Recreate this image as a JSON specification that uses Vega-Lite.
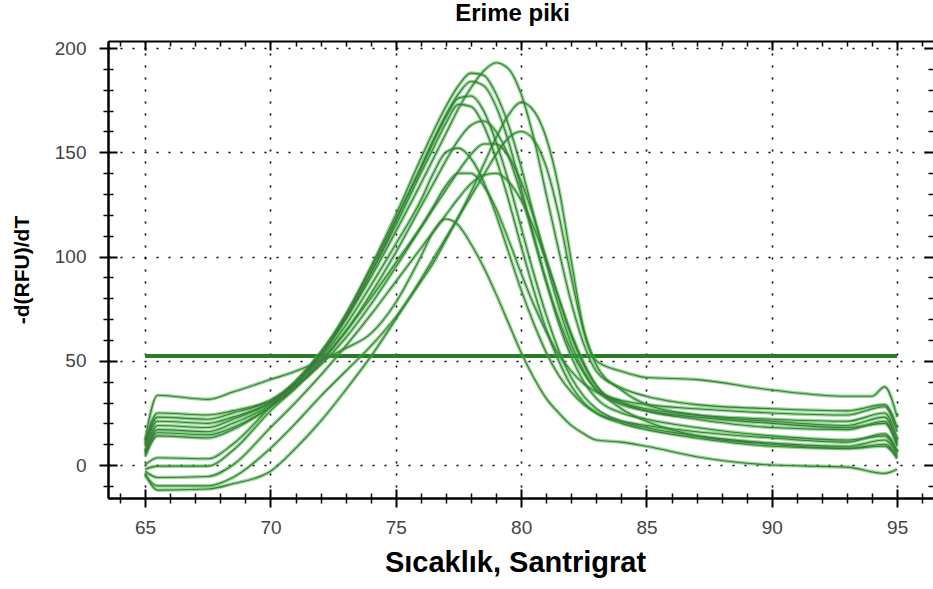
{
 "$schema": "https://vega.github.io/schema/vega-lite/v6.json",
 "width": 825,
 "height": 457,
 "autosize": {"type": "none"},
 "padding": {"left": 108, "top": 41, "right": 0, "bottom": 91},
 "background": "white",
 "config": {"view": {"stroke": null}, "font": "Liberation Sans"},
 "title": {"text": "Erime piki", "fontSize": 24, "fontWeight": "bold", "font": "Liberation Sans", "color": "#000", "baseline": "alphabetic", "offset": -6, "dx": -8},
 "datasets": {
  "thr": [{"t1": 65, "t2": 95, "v": 52.3}],
  "curves": [
{"c":"A","t":65,"v":0},{"c":"A","t":65.5,"v":3.5},{"c":"A","t":67.5,"v":3},{"c":"A","t":68.5,"v":10},{"c":"A","t":70,"v":28},{"c":"A","t":71,"v":40},{"c":"A","t":72,"v":54},{"c":"A","t":73,"v":70},{"c":"A","t":74,"v":90},{"c":"A","t":75,"v":112},{"c":"A","t":76,"v":135},{"c":"A","t":76.5,"v":147},{"c":"A","t":77,"v":159},{"c":"A","t":77.5,"v":171},{"c":"A","t":78,"v":181},{"c":"A","t":78.5,"v":189},{"c":"A","t":79,"v":193},{"c":"A","t":79.5,"v":190},{"c":"A","t":80,"v":178},{"c":"A","t":80.5,"v":157},{"c":"A","t":81,"v":130},{"c":"A","t":81.5,"v":103},{"c":"A","t":82,"v":78},{"c":"A","t":82.5,"v":58},{"c":"A","t":83,"v":45},{"c":"A","t":84,"v":37},{"c":"A","t":85,"v":33},{"c":"A","t":87,"v":29},{"c":"A","t":90,"v":27},{"c":"A","t":93,"v":26},{"c":"A","t":94.5,"v":29},{"c":"A","t":95,"v":18},
{"c":"B","t":65,"v":10},{"c":"B","t":65.5,"v":23},{"c":"B","t":67.5,"v":22},{"c":"B","t":68.5,"v":25},{"c":"B","t":70,"v":31},{"c":"B","t":71,"v":40},{"c":"B","t":72,"v":53},{"c":"B","t":73,"v":72},{"c":"B","t":74,"v":95},{"c":"B","t":75,"v":120},{"c":"B","t":76,"v":147},{"c":"B","t":76.5,"v":160},{"c":"B","t":77,"v":172},{"c":"B","t":77.5,"v":182},{"c":"B","t":78,"v":188},{"c":"B","t":78.5,"v":187},{"c":"B","t":79,"v":178},{"c":"B","t":79.5,"v":163},{"c":"B","t":80,"v":143},{"c":"B","t":80.5,"v":120},{"c":"B","t":81,"v":97},{"c":"B","t":81.5,"v":76},{"c":"B","t":82,"v":58},{"c":"B","t":82.5,"v":45},{"c":"B","t":83,"v":36},{"c":"B","t":84,"v":29},{"c":"B","t":85,"v":26},{"c":"B","t":87,"v":23},{"c":"B","t":90,"v":20},{"c":"B","t":93,"v":18},{"c":"B","t":94.5,"v":20},{"c":"B","t":95,"v":10},
{"c":"C","t":65,"v":9},{"c":"C","t":65.5,"v":21},{"c":"C","t":67.5,"v":20},{"c":"C","t":68.5,"v":23},{"c":"C","t":70,"v":30},{"c":"C","t":71,"v":39},{"c":"C","t":72,"v":52},{"c":"C","t":73,"v":70},{"c":"C","t":74,"v":92},{"c":"C","t":75,"v":117},{"c":"C","t":76,"v":143},{"c":"C","t":76.5,"v":156},{"c":"C","t":77,"v":168},{"c":"C","t":77.5,"v":178},{"c":"C","t":78,"v":184},{"c":"C","t":78.5,"v":182},{"c":"C","t":79,"v":172},{"c":"C","t":79.5,"v":155},{"c":"C","t":80,"v":133},{"c":"C","t":80.5,"v":110},{"c":"C","t":81,"v":88},{"c":"C","t":81.5,"v":68},{"c":"C","t":82,"v":52},{"c":"C","t":82.5,"v":40},{"c":"C","t":83,"v":32},{"c":"C","t":84,"v":25},{"c":"C","t":85,"v":22},{"c":"C","t":87,"v":18},{"c":"C","t":90,"v":14},{"c":"C","t":93,"v":12},{"c":"C","t":94.5,"v":14},{"c":"C","t":95,"v":6},
{"c":"D","t":65,"v":7},{"c":"D","t":65.5,"v":19},{"c":"D","t":67.5,"v":18},{"c":"D","t":68.5,"v":22},{"c":"D","t":70,"v":30},{"c":"D","t":71,"v":40},{"c":"D","t":72,"v":54},{"c":"D","t":73,"v":72},{"c":"D","t":74,"v":94},{"c":"D","t":75,"v":118},{"c":"D","t":76,"v":142},{"c":"D","t":76.5,"v":155},{"c":"D","t":77,"v":167},{"c":"D","t":77.5,"v":176},{"c":"D","t":78,"v":177},{"c":"D","t":78.5,"v":170},{"c":"D","t":79,"v":155},{"c":"D","t":79.5,"v":136},{"c":"D","t":80,"v":114},{"c":"D","t":80.5,"v":92},{"c":"D","t":81,"v":72},{"c":"D","t":81.5,"v":55},{"c":"D","t":82,"v":42},{"c":"D","t":82.5,"v":33},{"c":"D","t":83,"v":27},{"c":"D","t":84,"v":21},{"c":"D","t":85,"v":18},{"c":"D","t":87,"v":14},{"c":"D","t":90,"v":10.5},{"c":"D","t":93,"v":9},{"c":"D","t":94.5,"v":12},{"c":"D","t":95,"v":5},
{"c":"E","t":65,"v":6},{"c":"E","t":65.5,"v":17},{"c":"E","t":67.5,"v":16},{"c":"E","t":68.5,"v":20},{"c":"E","t":70,"v":29},{"c":"E","t":71,"v":39},{"c":"E","t":72,"v":53},{"c":"E","t":73,"v":71},{"c":"E","t":74,"v":92},{"c":"E","t":75,"v":115},{"c":"E","t":76,"v":140},{"c":"E","t":76.5,"v":152},{"c":"E","t":77,"v":164},{"c":"E","t":77.5,"v":173},{"c":"E","t":78,"v":172},{"c":"E","t":78.5,"v":163},{"c":"E","t":79,"v":147},{"c":"E","t":79.5,"v":127},{"c":"E","t":80,"v":105},{"c":"E","t":80.5,"v":84},{"c":"E","t":81,"v":65},{"c":"E","t":81.5,"v":50},{"c":"E","t":82,"v":38},{"c":"E","t":82.5,"v":30},{"c":"E","t":83,"v":25},{"c":"E","t":84,"v":20},{"c":"E","t":85,"v":17},{"c":"E","t":87,"v":13},{"c":"E","t":90,"v":9},{"c":"E","t":93,"v":8},{"c":"E","t":94.5,"v":10},{"c":"E","t":95,"v":4},
{"c":"I","t":65,"v":5},{"c":"I","t":65.5,"v":15.5},{"c":"I","t":67.5,"v":14.5},{"c":"I","t":68.5,"v":18},{"c":"I","t":70,"v":28},{"c":"I","t":71,"v":38},{"c":"I","t":72,"v":51},{"c":"I","t":73,"v":67},{"c":"I","t":74,"v":86},{"c":"I","t":75,"v":106},{"c":"I","t":76,"v":127},{"c":"I","t":76.5,"v":140},{"c":"I","t":77,"v":150},{"c":"I","t":77.5,"v":152},{"c":"I","t":78,"v":147},{"c":"I","t":78.5,"v":136},{"c":"I","t":79,"v":120},{"c":"I","t":79.5,"v":102},{"c":"I","t":80,"v":84},{"c":"I","t":80.5,"v":68},{"c":"I","t":81,"v":54},{"c":"I","t":81.5,"v":43},{"c":"I","t":82,"v":35},{"c":"I","t":82.5,"v":29},{"c":"I","t":83,"v":25},{"c":"I","t":84,"v":21},{"c":"I","t":85,"v":19},{"c":"I","t":87,"v":16},{"c":"I","t":90,"v":13},{"c":"I","t":93,"v":11},{"c":"I","t":94.5,"v":15},{"c":"I","t":95,"v":7},
{"c":"N","t":65,"v":4},{"c":"N","t":65.5,"v":14},{"c":"N","t":67.5,"v":13},{"c":"N","t":68.5,"v":17},{"c":"N","t":70,"v":28},{"c":"N","t":71,"v":37},{"c":"N","t":72,"v":49},{"c":"N","t":73,"v":64},{"c":"N","t":74,"v":82},{"c":"N","t":75,"v":102},{"c":"N","t":76,"v":124},{"c":"N","t":76.5,"v":135},{"c":"N","t":77,"v":146},{"c":"N","t":77.5,"v":156},{"c":"N","t":78,"v":163},{"c":"N","t":78.5,"v":165},{"c":"N","t":79,"v":160},{"c":"N","t":79.5,"v":148},{"c":"N","t":80,"v":130},{"c":"N","t":80.5,"v":109},{"c":"N","t":81,"v":88},{"c":"N","t":81.5,"v":70},{"c":"N","t":82,"v":55},{"c":"N","t":82.5,"v":44},{"c":"N","t":83,"v":36},{"c":"N","t":84,"v":30},{"c":"N","t":85,"v":27},{"c":"N","t":87,"v":24},{"c":"N","t":90,"v":22},{"c":"N","t":93,"v":21},{"c":"N","t":94.5,"v":25},{"c":"N","t":95,"v":13},
{"c":"J","t":65,"v":11},{"c":"J","t":65.5,"v":25},{"c":"J","t":67.5,"v":24},{"c":"J","t":68.5,"v":26},{"c":"J","t":70,"v":31},{"c":"J","t":71,"v":38},{"c":"J","t":72,"v":48},{"c":"J","t":73,"v":61},{"c":"J","t":74,"v":77},{"c":"J","t":75,"v":95},{"c":"J","t":76,"v":114},{"c":"J","t":76.5,"v":124},{"c":"J","t":77,"v":134},{"c":"J","t":77.5,"v":140},{"c":"J","t":78,"v":140},{"c":"J","t":78.5,"v":134},{"c":"J","t":79,"v":123},{"c":"J","t":79.5,"v":108},{"c":"J","t":80,"v":92},{"c":"J","t":80.5,"v":77},{"c":"J","t":81,"v":64},{"c":"J","t":81.5,"v":53},{"c":"J","t":82,"v":45},{"c":"J","t":82.5,"v":39},{"c":"J","t":83,"v":35},{"c":"J","t":84,"v":31},{"c":"J","t":85,"v":29},{"c":"J","t":87,"v":27},{"c":"J","t":90,"v":25},{"c":"J","t":93,"v":24},{"c":"J","t":94.5,"v":28},{"c":"J","t":95,"v":16},
{"c":"L","t":65,"v":12},{"c":"L","t":65.5,"v":33.5},{"c":"L","t":67.5,"v":31.5},{"c":"L","t":68.5,"v":35},{"c":"L","t":70,"v":41},{"c":"L","t":71,"v":45},{"c":"L","t":72,"v":50},{"c":"L","t":73,"v":56},{"c":"L","t":74,"v":63},{"c":"L","t":75,"v":78},{"c":"L","t":76,"v":100},{"c":"L","t":76.5,"v":112},{"c":"L","t":77,"v":118},{"c":"L","t":77.5,"v":115},{"c":"L","t":78,"v":106},{"c":"L","t":78.5,"v":95},{"c":"L","t":79,"v":82},{"c":"L","t":79.5,"v":68},{"c":"L","t":80,"v":54},{"c":"L","t":80.5,"v":42},{"c":"L","t":81,"v":32},{"c":"L","t":81.5,"v":25},{"c":"L","t":82,"v":19},{"c":"L","t":82.5,"v":15},{"c":"L","t":83,"v":12},{"c":"L","t":84,"v":11},{"c":"L","t":85,"v":9},{"c":"L","t":87,"v":4},{"c":"L","t":90,"v":0},{"c":"L","t":93,"v":-1},{"c":"L","t":94.5,"v":-4},{"c":"L","t":95,"v":-2},
{"c":"H","t":65,"v":-2},{"c":"H","t":65.5,"v":-0.5},{"c":"H","t":67.5,"v":-0.5},{"c":"H","t":68.5,"v":7},{"c":"H","t":70,"v":26},{"c":"H","t":71,"v":37},{"c":"H","t":72,"v":50},{"c":"H","t":73,"v":64},{"c":"H","t":74,"v":80},{"c":"H","t":75,"v":97},{"c":"H","t":76,"v":114},{"c":"H","t":76.5,"v":123},{"c":"H","t":77,"v":132},{"c":"H","t":77.5,"v":141},{"c":"H","t":78,"v":149},{"c":"H","t":78.5,"v":154},{"c":"H","t":79,"v":154},{"c":"H","t":79.5,"v":148},{"c":"H","t":80,"v":136},{"c":"H","t":80.5,"v":119},{"c":"H","t":81,"v":99},{"c":"H","t":81.5,"v":80},{"c":"H","t":82,"v":62},{"c":"H","t":82.5,"v":48},{"c":"H","t":83,"v":38},{"c":"H","t":84,"v":30},{"c":"H","t":85,"v":26},{"c":"H","t":87,"v":22},{"c":"H","t":90,"v":18},{"c":"H","t":93,"v":17},{"c":"H","t":94.5,"v":21},{"c":"H","t":95,"v":9},
{"c":"K","t":65,"v":-3},{"c":"K","t":65.5,"v":-6},{"c":"K","t":67.5,"v":-5.5},{"c":"K","t":68.5,"v":0},{"c":"K","t":70,"v":18},{"c":"K","t":71,"v":30},{"c":"K","t":72,"v":43},{"c":"K","t":73,"v":57},{"c":"K","t":74,"v":72},{"c":"K","t":75,"v":88},{"c":"K","t":76,"v":104},{"c":"K","t":76.5,"v":112},{"c":"K","t":77,"v":120},{"c":"K","t":77.5,"v":128},{"c":"K","t":78,"v":135},{"c":"K","t":78.5,"v":139},{"c":"K","t":79,"v":140},{"c":"K","t":79.5,"v":136},{"c":"K","t":80,"v":127},{"c":"K","t":80.5,"v":114},{"c":"K","t":81,"v":98},{"c":"K","t":81.5,"v":80},{"c":"K","t":82,"v":63},{"c":"K","t":82.5,"v":49},{"c":"K","t":83,"v":38},{"c":"K","t":84,"v":27},{"c":"K","t":85,"v":21},{"c":"K","t":87,"v":14},{"c":"K","t":90,"v":10},{"c":"K","t":93,"v":8},{"c":"K","t":94.5,"v":9},{"c":"K","t":95,"v":3},
{"c":"G","t":65,"v":-4},{"c":"G","t":65.5,"v":-12},{"c":"G","t":67.5,"v":-11.5},{"c":"G","t":68.5,"v":-9},{"c":"G","t":70,"v":-3},{"c":"G","t":71,"v":8},{"c":"G","t":72,"v":21},{"c":"G","t":73,"v":36},{"c":"G","t":74,"v":52},{"c":"G","t":75,"v":70},{"c":"G","t":76,"v":89},{"c":"G","t":76.5,"v":99},{"c":"G","t":77,"v":109},{"c":"G","t":77.5,"v":119},{"c":"G","t":78,"v":129},{"c":"G","t":78.5,"v":139},{"c":"G","t":79,"v":149},{"c":"G","t":79.5,"v":157},{"c":"G","t":80,"v":160},{"c":"G","t":80.5,"v":156},{"c":"G","t":81,"v":143},{"c":"G","t":81.5,"v":120},{"c":"G","t":82,"v":90},{"c":"G","t":82.5,"v":64},{"c":"G","t":83,"v":48},{"c":"G","t":84,"v":36},{"c":"G","t":85,"v":29},{"c":"G","t":87,"v":24},{"c":"G","t":90,"v":21},{"c":"G","t":93,"v":19},{"c":"G","t":94.5,"v":23},{"c":"G","t":95,"v":11},
{"c":"F","t":65,"v":-5},{"c":"F","t":65.5,"v":-10},{"c":"F","t":67.5,"v":-10},{"c":"F","t":68.5,"v":-6},{"c":"F","t":70,"v":8},{"c":"F","t":71,"v":20},{"c":"F","t":72,"v":33},{"c":"F","t":73,"v":45},{"c":"F","t":74,"v":57},{"c":"F","t":75,"v":71},{"c":"F","t":76,"v":88},{"c":"F","t":76.5,"v":97},{"c":"F","t":77,"v":108},{"c":"F","t":77.5,"v":119},{"c":"F","t":78,"v":131},{"c":"F","t":78.5,"v":144},{"c":"F","t":79,"v":157},{"c":"F","t":79.5,"v":168},{"c":"F","t":80,"v":174},{"c":"F","t":80.5,"v":170},{"c":"F","t":81,"v":157},{"c":"F","t":81.5,"v":133},{"c":"F","t":82,"v":98},{"c":"F","t":82.5,"v":65},{"c":"F","t":83,"v":50},{"c":"F","t":84,"v":45},{"c":"F","t":85,"v":42},{"c":"F","t":87,"v":41},{"c":"F","t":90,"v":36},{"c":"F","t":93,"v":33},{"c":"F","t":94,"v":33},{"c":"F","t":94.5,"v":37.5},{"c":"F","t":95,"v":23}
  ]
 },
 "layer": [
  {
   "data": {"name": "thr"},
   "mark": {"type": "rule", "color": "#2a7a2a", "strokeWidth": 4},
   "encoding": {
    "x": {"field": "t1", "type": "quantitative", "scale": {"domain": [63.52, 96.43], "nice": false, "zero": false},
      "axis": {"orient": "top", "values": [64,65,66,67,68,69,70,71,72,73,74,75,76,77,78,79,80,81,82,83,84,85,86,87,88,89,90,91,92,93,94,95,96], "labels": false, "title": null, "grid": false, "domain": true, "domainColor": "#000", "domainWidth": 2, "tickColor": "#000", "tickSize": {"condition": {"test": "datum.value % 5 === 0", "value": -9}, "value": -5}, "tickWidth": {"condition": {"test": "datum.value % 5 === 0", "value": 2}, "value": 1.5}}},
    "x2": {"field": "t2"},
    "y": {"field": "v", "type": "quantitative", "scale": {"domain": [-15.8, 203.4], "nice": false, "zero": false},
      "axis": {"orient": "right", "values": [-10,0,10,20,30,40,50,60,70,80,90,100,110,120,130,140,150,160,170,180,190,200], "labels": false, "title": null, "grid": false, "domain": false, "tickColor": "#000", "tickSize": {"condition": {"test": "datum.value % 50 === 0", "value": -9}, "value": -5}, "tickWidth": {"condition": {"test": "datum.value % 50 === 0", "value": 2}, "value": 1.5}}}
   }
  },
  {
   "data": {"name": "curves"},
   "mark": {"type": "line", "interpolate": "monotone", "color": "#3cb83c", "strokeWidth": 3.6, "opacity": 0.55},
   "encoding": {
    "x": {"field": "t", "type": "quantitative", "scale": {"domain": [63.52, 96.43], "nice": false, "zero": false},
      "axis": {"orient": "bottom", "values": [64,65,66,67,68,69,70,71,72,73,74,75,76,77,78,79,80,81,82,83,84,85,86,87,88,89,90,91,92,93,94,95,96], "labelExpr": "datum.value % 5 === 0 ? datum.label : ''", "labelFont": "Liberation Sans", "labelFontSize": 19, "labelColor": "#444", "labelPadding": 11, "title": "Sıcaklık, Santrigrat", "titleFont": "Liberation Sans", "titleFontSize": 29, "titleFontWeight": "bold", "titleColor": "#000", "titlePadding": 11, "titleX": 407, "grid": true, "gridColor": "#000", "gridDash": [2, 10], "gridWidth": 1.6, "gridOpacity": {"condition": {"test": "datum.value % 5 === 0", "value": 1}, "value": 0}, "domainColor": "#000", "domainWidth": 2, "tickColor": "#000", "tickSize": {"condition": {"test": "datum.value % 5 === 0", "value": 9}, "value": 5}, "tickWidth": {"condition": {"test": "datum.value % 5 === 0", "value": 2}, "value": 1.5}}},
    "y": {"field": "v", "type": "quantitative", "scale": {"domain": [-15.8, 203.4], "nice": false, "zero": false},
      "axis": {"orient": "left", "values": [-10,0,10,20,30,40,50,60,70,80,90,100,110,120,130,140,150,160,170,180,190,200], "labelExpr": "datum.value % 50 === 0 ? datum.label : ''", "labelFont": "Liberation Sans", "labelFontSize": 19, "labelColor": "#444", "labelPadding": 13, "title": "-d(RFU)/dT", "titleFont": "Liberation Sans", "titleFontSize": 21, "titleFontWeight": "bold", "titleColor": "#000", "titlePadding": 22, "grid": true, "gridColor": "#000", "gridDash": [2, 10], "gridWidth": 1.6, "gridOpacity": {"condition": {"test": "datum.value % 50 === 0", "value": 1}, "value": 0}, "domainColor": "#000", "domainWidth": 2, "tickColor": "#000", "tickSize": {"condition": {"test": "datum.value % 50 === 0", "value": 9}, "value": 5}, "tickWidth": {"condition": {"test": "datum.value % 50 === 0", "value": 2}, "value": 1.5}}},
    "detail": {"field": "c", "type": "nominal"}
   }
  },
  {
   "data": {"name": "curves"},
   "mark": {"type": "line", "interpolate": "monotone", "color": "#3f773f", "strokeWidth": 1.1},
   "encoding": {
    "x": {"field": "t", "type": "quantitative", "scale": {"domain": [63.52, 96.43], "nice": false, "zero": false},
      "axis": {"orient": "bottom", "values": [64,65,66,67,68,69,70,71,72,73,74,75,76,77,78,79,80,81,82,83,84,85,86,87,88,89,90,91,92,93,94,95,96], "labels": false, "title": null, "grid": false, "domainColor": "#000", "domainWidth": 2, "tickColor": "#000", "tickSize": {"condition": {"test": "datum.value % 5 === 0", "value": -9}, "value": -5}, "tickWidth": {"condition": {"test": "datum.value % 5 === 0", "value": 2}, "value": 1.5}}},
    "y": {"field": "v", "type": "quantitative", "scale": {"domain": [-15.8, 203.4], "nice": false, "zero": false},
      "axis": {"orient": "left", "values": [-10,0,10,20,30,40,50,60,70,80,90,100,110,120,130,140,150,160,170,180,190,200], "labels": false, "title": null, "grid": false, "domainColor": "#000", "domainWidth": 2, "tickColor": "#000", "tickSize": {"condition": {"test": "datum.value % 50 === 0", "value": -9}, "value": -5}, "tickWidth": {"condition": {"test": "datum.value % 50 === 0", "value": 2}, "value": 1.5}}},
    "detail": {"field": "c", "type": "nominal"}
   }
  }
 ],
 "resolve": {"axis": {"x": "independent", "y": "independent"}}
}
